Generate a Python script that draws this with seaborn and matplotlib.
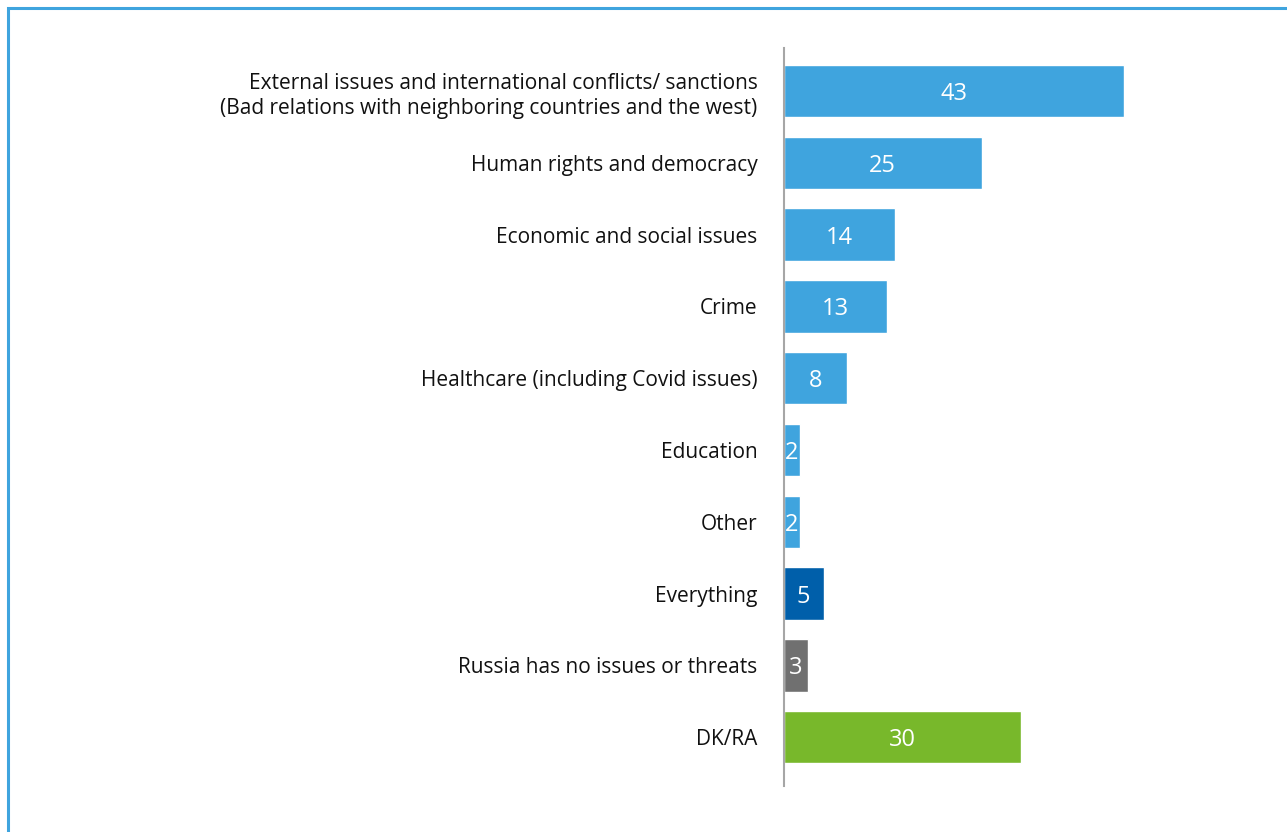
import matplotlib
matplotlib.use("Agg")
import matplotlib.pyplot as plt
import matplotlib.patches as mpatches
import seaborn as sns
import pandas as pd

categories = [
    "External issues and international conflicts/ sanctions\n(Bad relations with neighboring countries and the west)",
    "Human rights and democracy",
    "Economic and social issues",
    "Crime",
    "Healthcare (including Covid issues)",
    "Education",
    "Other",
    "Everything",
    "Russia has no issues or threats",
    "DK/RA",
]
values = [43, 25, 14, 13, 8, 2, 2, 5, 3, 30]
groups = ["issue"] * 7 + ["all", "none", "dk"]
palette = {"issue": "#3fa4de", "all": "#005faa", "none": "#707070", "dk": "#78b82b"}

df = pd.DataFrame({"category": categories, "value": values, "group": groups})

sns.set_style("white")
plt.rcParams["font.family"] = ["Open Sans", "DejaVu Sans"]

W, H = 1287, 832
fig = plt.figure(figsize=(W / 100, H / 100), dpi=100)
ax = fig.add_axes([784 / W, 1 - 786 / H, (1250 - 784) / W, (786 - 48) / H])

sns.barplot(data=df, y="category", x="value", hue="group", palette=palette,
            dodge=False, legend=False, width=0.73, saturation=1, ax=ax,
            orient="h")

ax.set_xlim(0, (1250 - 784) / 7.9)
ax.set_ylim(9.68, -0.60)
ax.set_xlabel("")
ax.set_ylabel("")
ax.set_xticks([])
for s in ["top", "right", "bottom"]:
    ax.spines[s].set_visible(False)
ax.spines["left"].set_color("#a6a6a6")
ax.spines["left"].set_linewidth(1.5)
ax.tick_params(axis="y", length=0, pad=19, labelsize=15, labelcolor="#111111")
for lbl in ax.get_yticklabels():
    lbl.set_horizontalalignment("right")
    lbl.set_multialignment("right")
    lbl.set_linespacing(1.25)

for i, v in enumerate(values):
    ax.text(v / 2, i, f"{v}", ha="center", va="center_baseline", color="white",
            fontsize=17)

# outer frame
fig.patches.append(mpatches.Rectangle((7.5 / W, -0.1), 1.2, 1 - 8 / H + 0.1,
                                      transform=fig.transFigure, fill=False,
                                      edgecolor="#3fa4de", linewidth=2.2))

fig.savefig("out.png", dpi=100)
